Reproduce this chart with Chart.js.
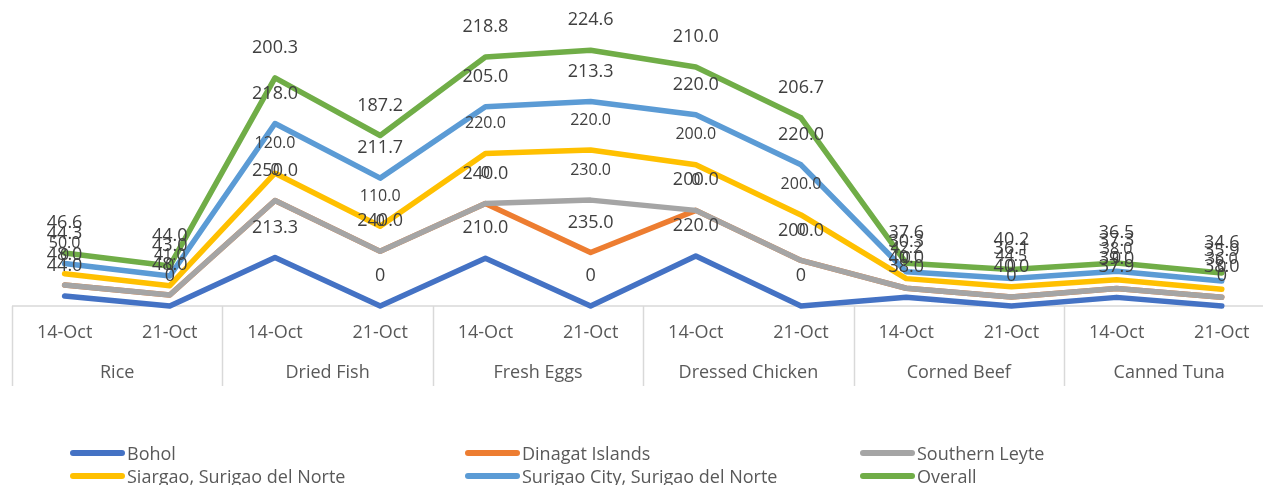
<!DOCTYPE html>
<html>
<head>
<meta charset="utf-8">
<title>Prices by province</title>
<script src="https://cdn.jsdelivr.net/npm/chart.js@4.4.1/dist/chart.umd.min.js"></script>
<style>
    html, body { margin: 0; padding: 0; background: #ffffff; overflow: hidden; }
    #wrap { position: relative; width: 1276px; height: 485px; }
    #legend { position: absolute; left: 0; top: 0; width: 1263px; height: 485px; pointer-events: none; }
    .leg-item { position: absolute; display: flex; align-items: center; font-family: "Open Sans", sans-serif; font-size: 18px; color: #595959; white-space: nowrap; }
    .leg-line { width: 55px; height: 6px; border-radius: 3px; margin-right: 2px; }
</style>
</head>
<body>
<div id="wrap">
    <canvas id="chart" width="1276" height="485"></canvas>
    <div id="legend"></div>
</div>
<script>
// ==========================================
// DATA
// ==========================================
const dates = ['14-Oct', '21-Oct'];
const commodities = ['Rice', 'Dried Fish', 'Fresh Eggs', 'Dressed Chicken', 'Corned Beef', 'Canned Tuna'];

const seriesNames = ['Bohol', 'Dinagat Islands', 'Southern Leyte', 'Siargao, Surigao del Norte', 'Surigao City, Surigao del Norte', 'Overall'];
const seriesColors = ['#4472C4', '#ED7D31', '#A5A5A5', '#FFC000', '#5B9BD5', '#70AD47'];

const bohol         = [44.0, 0, 213.3, 0, 210.0, 0, 220.0, 0, 38.0, 0, 37.9, 0];
const dinagat       = [48.0, 48.0, 250.0, 240.0, 240.0, 235.0, 200.0, 200.0, 40.0, 40.0, 39.0, 38.0];
const southernLeyte = [0, 0, 0, 0, 0, 230.0, 0, 0, 0, 0, 0, 0];
const siargao       = [50.0, 41.0, 120.0, 110.0, 220.0, 220.0, 200.0, 200.0, 42.2, 44.5, 38.0, 36.0];
const surigaoCity   = [44.3, 43.0, 218.0, 211.7, 205.0, 213.3, 220.0, 220.0, 30.3, 36.1, 37.3, 35.9];
const overall       = [46.6, 44.0, 200.3, 187.2, 218.8, 224.6, 210.0, 206.7, 37.6, 40.2, 36.5, 34.6];

const seriesValues = [bohol, dinagat, southernLeyte, siargao, surigaoCity, overall];
// the two middle series use a smaller label font in the original
const smallLabelSeries = [2, 3];

// one category per commodity/date pair
const labels = [];
commodities.forEach(c => dates.forEach(d => labels.push(d)));

// ==========================================
// PLUGINS
// ==========================================
const FONT = '"Open Sans", sans-serif';

// two-level category axis drawn under the lines
const groupAxis = {
    id: 'groupAxis',
    beforeDatasetsDraw(chart) {
        const ctx = chart.ctx;
        const x = chart.scales.x;
        const area = chart.chartArea;
        const step = x.getPixelForValue(1) - x.getPixelForValue(0);
        const base = area.bottom;

        ctx.save();
        ctx.strokeStyle = '#D9D9D9';
        ctx.lineWidth = 1.5;
        ctx.beginPath();
        ctx.moveTo(area.left, base);
        ctx.lineTo(area.right, base);
        for (let g = 0; g <= commodities.length; g++) {
            const px = Math.round(x.getPixelForValue(g * dates.length) - step / 2) + 0.5;
            ctx.moveTo(px, base);
            ctx.lineTo(px, base + 80);
        }
        ctx.stroke();

        ctx.fillStyle = '#595959';
        ctx.font = '18px ' + FONT;
        ctx.textAlign = 'center';
        ctx.textBaseline = 'middle';
        labels.forEach((lab, i) => {
            ctx.fillText(lab, x.getPixelForValue(i), base + 27);
        });
        commodities.forEach((c, g) => {
            const a = x.getPixelForValue(g * dates.length);
            const b = x.getPixelForValue(g * dates.length + dates.length - 1);
            ctx.fillText(c, (a + b) / 2, base + 67);
        });
        ctx.restore();
    }
};

// draw series first-to-last so later ones sit on top (Excel style),
// without touching the stacking order
const drawOrder = {
    id: 'drawOrder',
    beforeDatasetDraw() {
        return false;
    },
    afterDatasetsDraw(chart) {
        for (let i = 0; i < chart.data.datasets.length; i++) {
            chart.getDatasetMeta(i).controller.draw();
        }
    }
};

// value labels above every point
const valueLabels = {
    id: 'valueLabels',
    afterDatasetsDraw(chart) {
        const ctx = chart.ctx;
        ctx.save();
        ctx.fillStyle = '#404040';
        ctx.textAlign = 'center';
        ctx.textBaseline = 'middle';
        chart.data.datasets.forEach((ds, di) => {
            const meta = chart.getDatasetMeta(di);
            ctx.font = (smallLabelSeries.includes(di) ? '16px ' : '18px ') + FONT;
            meta.data.forEach((pt, i) => {
                const v = ds.data[i];
                const txt = v === 0 ? '0' : v.toFixed(1);
                ctx.fillText(txt, pt.x, pt.y - 30);
            });
        });
        ctx.restore();
    }
};

// ==========================================
// CHART
// ==========================================
const chart = new Chart(document.getElementById('chart'), {
    type: 'line',
    data: {
        labels: labels,
        datasets: seriesNames.map((name, i) => ({
            label: name,
            data: seriesValues[i],
            borderColor: seriesColors[i],
            backgroundColor: seriesColors[i],
            borderWidth: 5.5,
            borderCapStyle: 'round',
            borderJoinStyle: 'round',
            pointRadius: 0,
            tension: 0,
            fill: false
        }))
    },
    options: {
        responsive: false,
        animation: false,
        devicePixelRatio: 1,
        layout: {
            padding: { left: 12, right: 1.6, top: 10, bottom: 179 }
        },
        scales: {
            x: { type: 'category', offset: true, display: false },
            y: { stacked: true, min: 0, max: 1300, display: false }
        },
        plugins: {
            legend: { display: false },
            tooltip: { enabled: false }
        }
    },
    plugins: [groupAxis, drawOrder, valueLabels]
});

// ==========================================
// LEGEND (3 columns, 2 rows)
// ==========================================
const legendBox = document.getElementById('legend');
seriesNames.forEach((name, i) => {
    const item = document.createElement('div');
    item.className = 'leg-item';
    item.style.left = (70 + (i % 3) * 395) + 'px';
    item.style.top = (441 + Math.floor(i / 3) * 23) + 'px';
    const line = document.createElement('span');
    line.className = 'leg-line';
    line.style.background = seriesColors[i];
    const text = document.createElement('span');
    text.textContent = name;
    item.appendChild(line);
    item.appendChild(text);
    legendBox.appendChild(item);
});
</script>
</body>
</html>
